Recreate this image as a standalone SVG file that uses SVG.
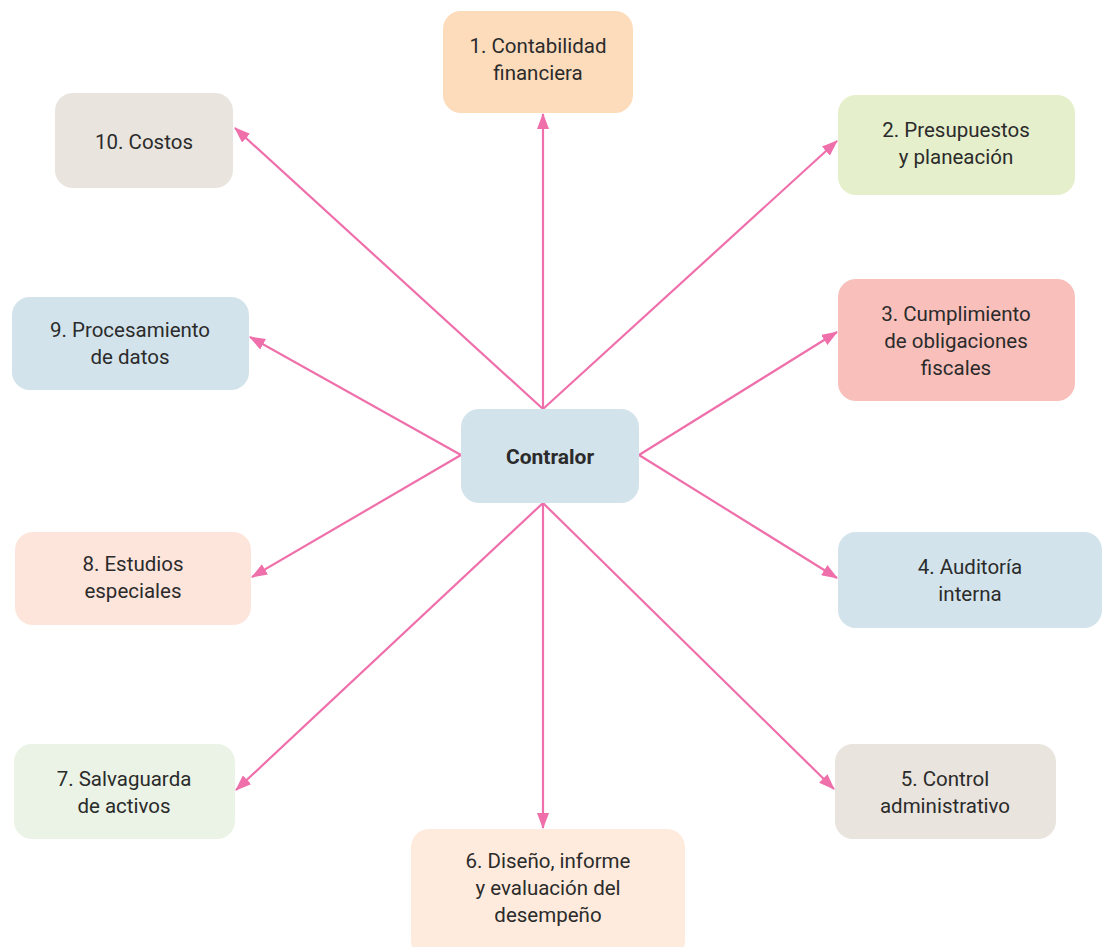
<svg xmlns="http://www.w3.org/2000/svg" width="1103" height="947" viewBox="0 0 1103 947">
  <defs>
    <style>
      .box { stroke: none; }
      .lbl { font-family: Roboto, "Liberation Sans", sans-serif; font-size: 20.5px; fill: #2b2b2b; text-anchor: middle; }
      .bold { font-weight: bold; font-size: 21px; }
      .conn line { stroke: #ef6fab; stroke-width: 2.2; fill: none; marker-end: url(#arrow); }
    </style>
    <marker id="arrow" viewBox="0 0 16 12" refX="15" refY="6" markerWidth="16" markerHeight="12" markerUnits="userSpaceOnUse" orient="auto">
      <path d="M0,0 L16,6 L0,12 z" fill="#ef6fab"/>
    </marker>
  </defs>
  <rect width="1103" height="947" fill="#ffffff"/>

  <!-- connectors from the central node -->
  <g id="connectors" class="conn">
    <line x1="543" y1="409" x2="543" y2="114"/>
    <line x1="543" y1="409" x2="837" y2="141"/>
    <line x1="639" y1="455" x2="837" y2="332"/>
    <line x1="639" y1="455" x2="837" y2="578"/>
    <line x1="543" y1="503" x2="834" y2="789"/>
    <line x1="543" y1="503" x2="543" y2="828"/>
    <line x1="543" y1="503" x2="236" y2="790"/>
    <line x1="461" y1="455" x2="252" y2="577"/>
    <line x1="461" y1="455" x2="250" y2="337"/>
    <line x1="543" y1="409" x2="235" y2="128"/>
  </g>

  <g id="contralor">
    <rect class="box" x="461" y="409" width="178" height="94" rx="18" fill="#d3e3eb"/>
    <text class="lbl bold" x="550" y="464">Contralor</text>
  </g>

  <g id="n1">
    <rect class="box" x="443" y="11" width="190" height="102" rx="18" fill="#fddcbc"/>
    <text class="lbl" x="538" y="53">1. Contabilidad</text>
    <text class="lbl" x="538" y="80">financiera</text>
  </g>

  <g id="n2">
    <rect class="box" x="838" y="95" width="237" height="100" rx="18" fill="#e6efcb"/>
    <text class="lbl" x="956" y="137">2. Presupuestos</text>
    <text class="lbl" x="956" y="164">y planeación</text>
  </g>

  <g id="n3">
    <rect class="box" x="838" y="279" width="237" height="122" rx="18" fill="#f9c0bb"/>
    <text class="lbl" x="956" y="321">3. Cumplimiento</text>
    <text class="lbl" x="956" y="348">de obligaciones</text>
    <text class="lbl" x="956" y="375">fiscales</text>
  </g>

  <g id="n4">
    <rect class="box" x="838" y="532" width="264" height="96" rx="18" fill="#d3e3eb"/>
    <text class="lbl" x="970" y="574">4. Auditoría</text>
    <text class="lbl" x="970" y="601">interna</text>
  </g>

  <g id="n5">
    <rect class="box" x="835" y="744" width="221" height="95" rx="18" fill="#e9e4de"/>
    <text class="lbl" x="945" y="786">5. Control</text>
    <text class="lbl" x="945" y="813">administrativo</text>
  </g>

  <g id="n6">
    <rect class="box" x="411" y="829" width="274" height="130" rx="18" fill="#feebdd"/>
    <text class="lbl" x="548" y="868">6. Diseño, informe</text>
    <text class="lbl" x="548" y="895">y evaluación del</text>
    <text class="lbl" x="548" y="922">desempeño</text>
  </g>

  <g id="n7">
    <rect class="box" x="14" y="744" width="221" height="95" rx="18" fill="#eaf3e5"/>
    <text class="lbl" x="124" y="786">7. Salvaguarda</text>
    <text class="lbl" x="124" y="813">de activos</text>
  </g>

  <g id="n8">
    <rect class="box" x="15" y="532" width="236" height="93" rx="18" fill="#fde5db"/>
    <text class="lbl" x="133" y="571">8. Estudios</text>
    <text class="lbl" x="133" y="598">especiales</text>
  </g>

  <g id="n9">
    <rect class="box" x="12" y="297" width="237" height="93" rx="18" fill="#d3e3eb"/>
    <text class="lbl" x="130" y="337">9. Procesamiento</text>
    <text class="lbl" x="130" y="364">de datos</text>
  </g>

  <g id="n10">
    <rect class="box" x="55" y="93" width="178" height="95" rx="18" fill="#e9e4de"/>
    <text class="lbl" x="144" y="149">10. Costos</text>
  </g>
</svg>
